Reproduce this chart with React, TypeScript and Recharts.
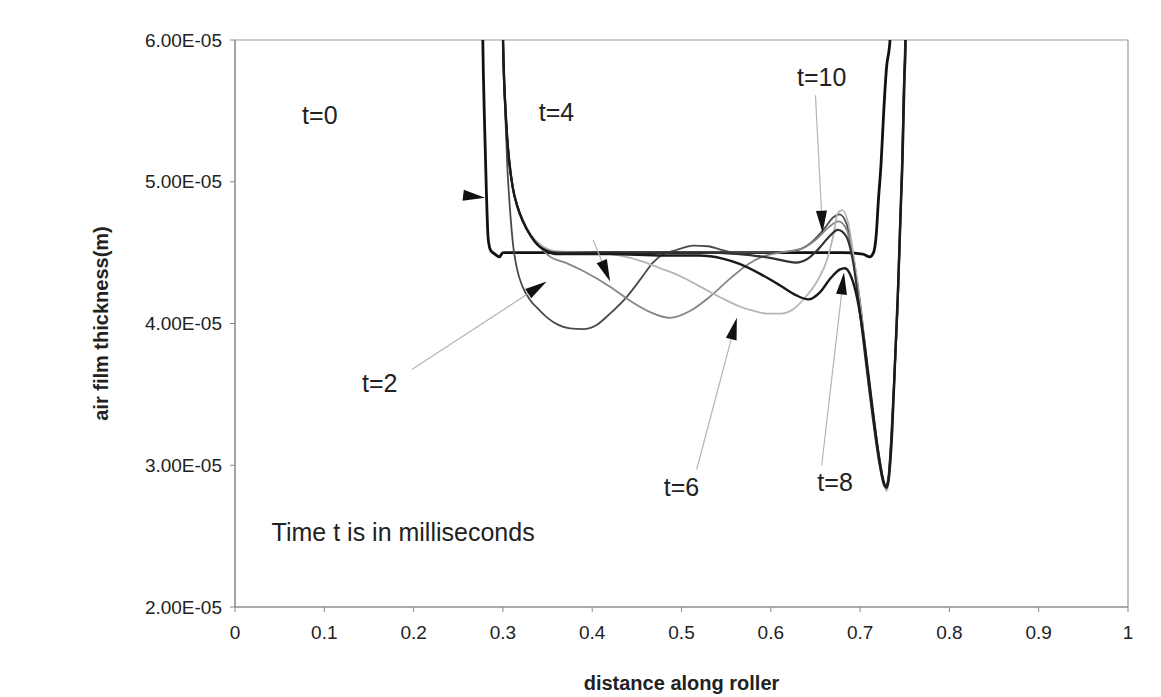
import {
  LineChart,
  Line,
  XAxis,
  YAxis,
  ReferenceArea,
  ReferenceLine,
  ReferenceDot,
} from "recharts";

// distance along roller vs air film thickness (y in units of 1e-5 m)
const T0: [number, number][] = [
  [0.2766, 6.5], [0.2775, 6.0], [0.2795, 5.4], [0.2815, 4.93], [0.2835, 4.6],
  [0.286, 4.52], [0.291, 4.49], [0.296, 4.47], [0.3, 4.5], [0.31, 4.5],
  [0.4, 4.5], [0.5, 4.5], [0.6, 4.5], [0.68, 4.5], [0.703, 4.49],
  [0.711, 4.47], [0.715, 4.5], [0.718, 4.62], [0.7205, 4.87], [0.7235, 5.13],
  [0.7265, 5.5], [0.7295, 5.8], [0.7335, 6.0], [0.7355, 6.5],
];

const T2: [number, number][] = [
  [0.299, 6.5], [0.3, 6.0], [0.3025, 5.5], [0.305, 5.1], [0.308, 4.8],
  [0.3115, 4.55], [0.316, 4.38], [0.322, 4.26], [0.33, 4.17], [0.34, 4.1],
  [0.35, 4.04], [0.362, 3.99], [0.375, 3.965], [0.39, 3.96], [0.405, 3.99],
  [0.42, 4.07], [0.439, 4.19], [0.455, 4.32], [0.468, 4.43], [0.48, 4.49],
  [0.49, 4.51], [0.5, 4.53], [0.513, 4.55], [0.53, 4.545], [0.545, 4.52],
  [0.56, 4.5], [0.6, 4.5], [0.625, 4.51], [0.645, 4.57], [0.66, 4.67],
  [0.67, 4.75], [0.677, 4.77], [0.685, 4.7], [0.693, 4.45], [0.7, 4.15],
  [0.708, 3.7], [0.716, 3.3], [0.723, 3.0], [0.7285, 2.85], [0.731, 2.87],
  [0.735, 3.2], [0.739, 3.7], [0.742, 4.1], [0.745, 4.7], [0.747, 5.13],
  [0.749, 5.7], [0.7505, 6.0], [0.7515, 6.5],
];

const T4: [number, number][] = [
  [0.299, 6.5], [0.3, 6.05], [0.3035, 5.44], [0.307, 5.15], [0.311, 4.96],
  [0.316, 4.83], [0.3225, 4.72], [0.331, 4.62], [0.3415, 4.54], [0.353, 4.47],
  [0.37, 4.43], [0.39, 4.37], [0.42, 4.26], [0.445, 4.15], [0.465, 4.08],
  [0.487, 4.04], [0.51, 4.09], [0.532, 4.19], [0.555, 4.32], [0.575, 4.42],
  [0.59, 4.47], [0.61, 4.5], [0.635, 4.53], [0.652, 4.6], [0.665, 4.68],
  [0.676, 4.72], [0.685, 4.66], [0.693, 4.42], [0.7, 4.1], [0.708, 3.66],
  [0.716, 3.27], [0.723, 2.98], [0.7285, 2.86], [0.7315, 2.9], [0.7355, 3.25],
  [0.7395, 3.75], [0.7425, 4.2], [0.7455, 4.8], [0.7475, 5.2], [0.7495, 5.7],
  [0.751, 6.0], [0.752, 6.5],
];

const T6: [number, number][] = [
  [0.299, 6.5], [0.3, 6.05], [0.3035, 5.44], [0.307, 5.15], [0.311, 4.96],
  [0.316, 4.83], [0.3225, 4.73], [0.331, 4.63], [0.3415, 4.56], [0.36, 4.51],
  [0.4, 4.5], [0.43, 4.48], [0.455, 4.44], [0.476, 4.39], [0.5, 4.33],
  [0.521, 4.26], [0.545, 4.18], [0.565, 4.12], [0.58, 4.09], [0.596, 4.07],
  [0.612, 4.07], [0.625, 4.1], [0.638, 4.18], [0.652, 4.3], [0.663, 4.45],
  [0.67, 4.62], [0.675, 4.78], [0.68, 4.8], [0.687, 4.7], [0.694, 4.42],
  [0.701, 4.08], [0.709, 3.63], [0.717, 3.22], [0.7235, 2.95], [0.7295, 2.82],
  [0.732, 2.88], [0.736, 3.22], [0.74, 3.8], [0.743, 4.25], [0.746, 4.85],
  [0.748, 5.2], [0.7505, 5.8], [0.7515, 6.0], [0.7525, 6.5],
];

const T8: [number, number][] = [
  [0.299, 6.5], [0.3, 6.05], [0.3035, 5.44], [0.307, 5.15], [0.311, 4.96],
  [0.316, 4.83], [0.3225, 4.72], [0.331, 4.62], [0.3415, 4.54], [0.36, 4.49],
  [0.42, 4.49], [0.48, 4.48], [0.52, 4.48], [0.545, 4.46], [0.565, 4.42],
  [0.588, 4.35], [0.61, 4.27], [0.628, 4.2], [0.642, 4.17], [0.655, 4.22],
  [0.667, 4.32], [0.677, 4.38], [0.683, 4.39], [0.69, 4.33], [0.697, 4.17],
  [0.704, 3.9], [0.712, 3.5], [0.719, 3.15], [0.725, 2.92], [0.7295, 2.84],
  [0.732, 2.9], [0.736, 3.25], [0.7395, 3.8], [0.7425, 4.25], [0.7455, 4.8],
  [0.7475, 5.15], [0.7495, 5.7], [0.751, 6.0], [0.752, 6.5],
];

const T10: [number, number][] = [
  [0.299, 6.5], [0.3, 6.05], [0.3035, 5.44], [0.307, 5.15], [0.311, 4.96],
  [0.316, 4.83], [0.3225, 4.72], [0.331, 4.62], [0.3415, 4.54], [0.36, 4.5],
  [0.45, 4.5], [0.52, 4.5], [0.565, 4.49], [0.602, 4.46], [0.628, 4.43],
  [0.642, 4.46], [0.654, 4.53], [0.665, 4.61], [0.675, 4.66], [0.684, 4.62],
  [0.692, 4.44], [0.699, 4.12], [0.707, 3.7], [0.715, 3.3], [0.722, 3.0],
  [0.728, 2.85], [0.731, 2.88], [0.735, 3.2], [0.739, 3.72], [0.742, 4.15],
  [0.745, 4.75], [0.747, 5.13], [0.749, 5.65], [0.7505, 6.0], [0.7515, 6.5],
];

const X_TICKS = [0, 0.1, 0.2, 0.3, 0.4, 0.5, 0.6, 0.7, 0.8, 0.9, 1];
const Y_TICKS = [2e-5, 3e-5, 4e-5, 5e-5, 6e-5];

// text notes placed in data coordinates
const NOTES = [
  { text: "t=0", x: 0.095, y: 5.47, anchor: "middle" },
  { text: "t=4", x: 0.36, y: 5.49, anchor: "middle" },
  { text: "t=10", x: 0.657, y: 5.74, anchor: "middle" },
  { text: "t=2", x: 0.162, y: 3.58, anchor: "middle" },
  { text: "t=6", x: 0.5, y: 2.85, anchor: "middle" },
  { text: "t=8", x: 0.672, y: 2.88, anchor: "middle" },
  { text: "Time t is in milliseconds", x: 0.041, y: 2.53, anchor: "start" },
];

// arrows: from -> to (tip), line drawn or not
const ARROWS = [
  { from: [0.262, 4.9], to: [0.28, 4.887], line: false },
  { from: [0.198, 3.676], to: [0.349, 4.296], line: true },
  { from: [0.401, 4.59], to: [0.42, 4.296], line: true },
  { from: [0.517, 2.97], to: [0.562, 4.04], line: true },
  { from: [0.657, 3.0], to: [0.682, 4.36], line: true },
  { from: [0.65, 5.61], to: [0.658, 4.64], line: true },
];

const SERIES = [
  { key: "t0", pts: T0, color: "#111", width: 2.8 },
  { key: "t2", pts: T2, color: "#4a4a4a", width: 1.8 },
  { key: "t4", pts: T4, color: "#858585", width: 1.8 },
  { key: "t6", pts: T6, color: "#b5b5b5", width: 1.8 },
  { key: "t10", pts: T10, color: "#333", width: 2.2 },
  { key: "t8", pts: T8, color: "#1a1a1a", width: 2.4 },
];

const FONT = "'Liberation Sans', Arial, sans-serif";

function fmtY(v: number): string {
  const [m, e] = v.toExponential(2).split("e");
  const n = Number(e);
  return `${m}E${n < 0 ? "-" : "+"}${String(Math.abs(n)).padStart(2, "0")}`;
}

function ArrowShape(props: any) {
  const { x1, y1, x2, y2, line } = props;
  const a = Math.atan2(y2 - y1, x2 - x1);
  const L = 22;
  const W = 5.5;
  const bx = x2 - L * Math.cos(a);
  const by = y2 - L * Math.sin(a);
  const px = -Math.sin(a) * W;
  const py = Math.cos(a) * W;
  return (
    <g>
      {line && (
        <line x1={x1} y1={y1} x2={bx} y2={by} stroke="#b5b5b5" strokeWidth={1.2} />
      )}
      <polygon
        points={`${x2},${y2} ${bx + px},${by + py} ${bx - px},${by - py}`}
        fill="#111"
      />
    </g>
  );
}

function YTitle(props: any) {
  const { viewBox } = props;
  const cx = 101;
  const cy = viewBox.y + viewBox.height / 2;
  return (
    <text
      x={cx}
      y={cy}
      transform={`rotate(-90 ${cx} ${cy})`}
      textAnchor="middle"
      dominantBaseline="central"
      fontFamily={FONT}
      fontWeight="bold"
      fontSize={20}
      fill="#222"
    >
      air film thickness(m)
    </text>
  );
}

function XTitle(props: any) {
  const { viewBox } = props;
  return (
    <text
      x={viewBox.x + viewBox.width / 2}
      y={viewBox.y + 76}
      textAnchor="middle"
      dominantBaseline="central"
      fontFamily={FONT}
      fontWeight="bold"
      fontSize={20}
      fill="#222"
    >
      distance along roller
    </text>
  );
}

export default function App() {
  return (
    <div style={{ position: "absolute", left: 0, top: 0, background: "#fff" }}>
      <LineChart
        width={1161}
        height={697}
        margin={{ top: 40, right: 33, bottom: 0, left: 0 }}
      >
        <XAxis
          type="number"
          dataKey="x"
          domain={[0, 1]}
          ticks={X_TICKS}
          tickFormatter={(v) => String(v)}
          height={90}
          stroke="#888"
          tickSize={5}
          tickMargin={14}
          tick={{ fontFamily: FONT, fontSize: 19, fill: "#222" }}
          label={<XTitle />}
        />
        <YAxis
          type="number"
          dataKey="y"
          domain={[2e-5, 6e-5]}
          allowDataOverflow
          ticks={Y_TICKS}
          tickFormatter={fmtY}
          width={235}
          stroke="#888"
          tickSize={5}
          tickMargin={8}
          tick={{ fontFamily: FONT, fontSize: 19, fill: "#222" }}
          label={<YTitle />}
        />
        <ReferenceArea
          x1={0}
          x2={1}
          y1={2e-5}
          y2={6e-5}
          fill="none"
          stroke="#999"
          strokeWidth={1.2}
        />
        {SERIES.map((s) => (
          <Line
            key={s.key}
            data={s.pts.map(([x, y]) => ({ x, y: y * 1e-5 }))}
            dataKey="y"
            type="monotone"
            stroke={s.color}
            strokeWidth={s.width}
            dot={false}
            activeDot={false}
            isAnimationActive={false}
          />
        ))}
        {ARROWS.map((a, i) => (
          <ReferenceLine
            key={`arrow-${i}`}
            segment={[
              { x: a.from[0], y: a.from[1] * 1e-5 },
              { x: a.to[0], y: a.to[1] * 1e-5 },
            ]}
            shape={(p: any) => <ArrowShape {...p} line={a.line} />}
          />
        ))}
        {NOTES.map((n) => (
          <ReferenceDot
            key={n.text}
            x={n.x}
            y={n.y * 1e-5}
            r={0}
            shape={(p: any) => (
              <text
                x={p.cx}
                y={p.cy}
                textAnchor={n.anchor as any}
                dominantBaseline="central"
                fontFamily={FONT}
                fontSize={25}
                fill="#222"
              >
                {n.text}
              </text>
            )}
          />
        ))}
      </LineChart>
    </div>
  );
}
